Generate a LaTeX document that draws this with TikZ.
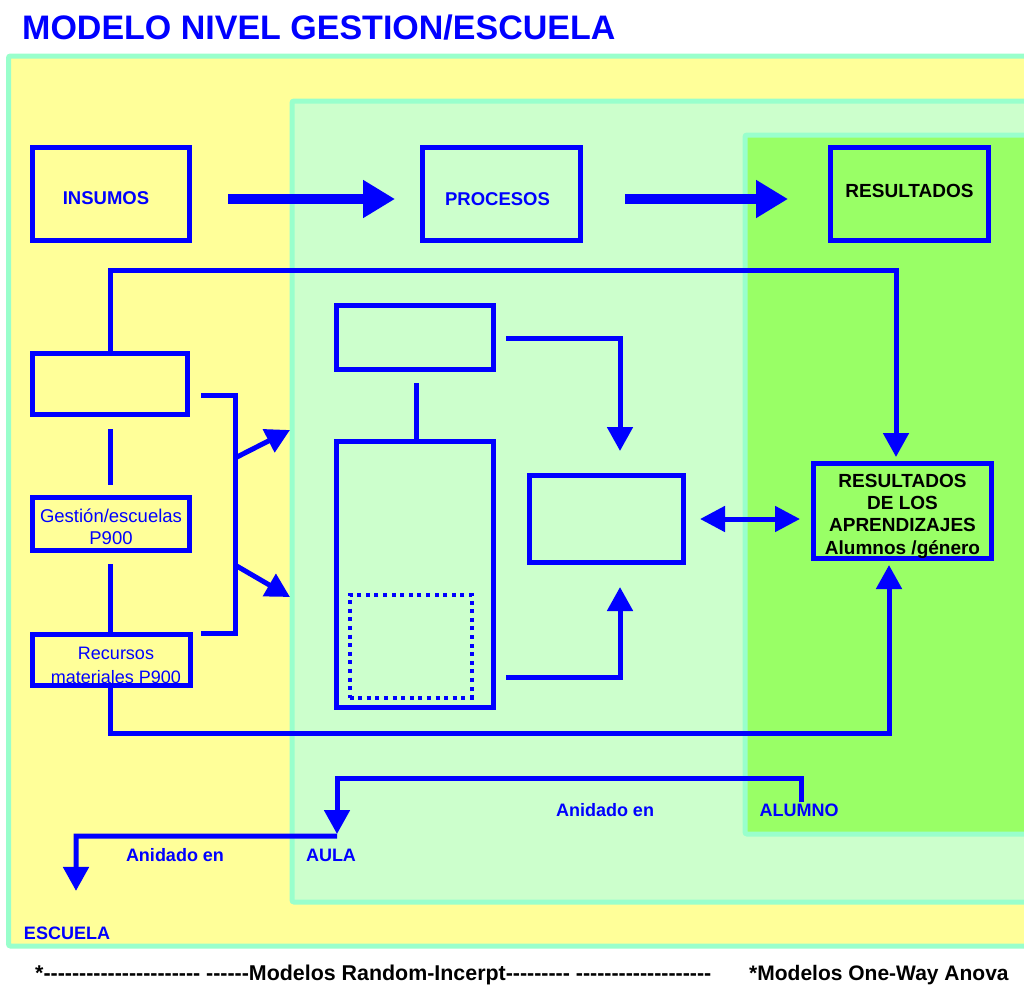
\documentclass[tikz,border=0pt]{standalone}
\usepackage{fontspec}
\setmainfont{Liberation Sans}
\newfontfamily\dashfont{Liberation Sans}[Ligatures=TeXOff]
\usetikzlibrary{arrows.meta,calc}

\definecolor{bblue}{HTML}{0000FF}
\definecolor{byellow}{HTML}{FFFF99}
\definecolor{blight}{HTML}{CCFFCC}
\definecolor{bgreen}{HTML}{99FF66}
\definecolor{baqua}{HTML}{99FFCC}

\tikzset{
  zone/.style={fill=#1, draw=baqua, line width=5pt, rounded corners=2pt},
  box/.style={draw=bblue, line width=5pt, inner sep=0pt, outer sep=0pt},
  dotbox/.style={draw=bblue, line width=4pt, dash pattern=on 4pt off 4.6pt, inner sep=0pt, outer sep=0pt},
  heading/.style={font=\fontsize{18.5pt}{22pt}\selectfont\bfseries, text=bblue},
  dark/.style={font=\fontsize{19pt}{22.4pt}\selectfont\bfseries, text=black, align=center},
  plain/.style={font=\fontsize{18.5pt}{22pt}\selectfont, text=bblue, align=center},
  tag/.style={font=\fontsize{18pt}{22pt}\selectfont\bfseries, text=bblue, inner sep=0pt},
  conn/.style={draw=bblue, line width=5pt},
  arr/.style={conn, -{Triangle[length=24pt,width=25pt]}},
  dblarr/.style={conn, {Triangle[length=25pt,width=25pt]}-{Triangle[length=25pt,width=25pt]}},
  bigarrow/.style={draw=bblue, line width=10pt, -{Triangle[length=32pt,width=36pt]}},
}

\begin{document}
\begin{tikzpicture}[x=1pt,y=-1pt]
\useasboundingbox (0,0) rectangle (1024,985);

% nested levels: school, classroom, pupil
\fill[white] (0,0) rectangle (1024,985);
\draw[zone=byellow] (8.5,56) rectangle (1035,946);
\draw[zone=blight] (292,101) rectangle (1035,902);
\draw[zone=bgreen] (745,135) rectangle (1035,834);

% title
\node[anchor=base west, inner sep=0pt, text=bblue,
      font=\fontsize{34pt}{40pt}\selectfont\bfseries] (title) at (22,39)
  {MODELO NIVEL GESTION/ESCUELA};

% top row
\node[box, minimum width=157pt, minimum height=93pt,
      label={[heading, xshift=-5pt, yshift=-4pt]center:INSUMOS}] (ins) at (111,194) {};
\node[box, minimum width=158pt, minimum height=93pt,
      label={[heading, xshift=-4pt, yshift=-5pt]center:PROCESOS}] (pro) at (501.5,194) {};
\node[box, minimum width=158pt, minimum height=93pt,
      label={[dark, yshift=3pt]center:RESULTADOS}] (res) at (909.5,194) {};
\draw[bigarrow] ($(ins.east)+(38.5,5)$) -- ($(pro.west)+(-27.5,5)$);
\draw[bigarrow] ($(pro.east)+(44.5,5)$) -- ($(res.west)+(-42.5,5)$);

% left column
\node[box, minimum width=155pt, minimum height=61pt] (b1) at (110,384) {};
\node[box, minimum width=157pt, minimum height=53pt,
      label={[plain, yshift=-3pt]center:Gestión/escuelas\\P900}] (gest) at (111,524) {};
\node[box, minimum width=158pt, minimum height=51pt] (rec) at (111.5,660) {};
\node[plain, font=\fontsize{18pt}{24pt}\selectfont, inner sep=0pt] (recT) at (116,665.5) {Recursos\\materiales P900};

% middle column
\node[box, minimum width=157pt, minimum height=64pt] (mtop) at (415,337.5) {};
\node[box, minimum width=157pt, minimum height=266pt] (mtall) at (415,574.5) {};
\node[dotbox, minimum width=122pt, minimum height=103pt] (dot) at (410.5,646) {};
\node[box, minimum width=154pt, minimum height=87pt] (mmid) at (606.5,519) {};

% outcome box
\node[box, minimum width=178pt, minimum height=95pt,
      label={[dark, yshift=-5pt]center:RESULTADOS\\DE LOS\\APRENDIZAJES\\Alumnos /género}] (rda) at (902.5,511) {};

% long links into the outcome box
\coordinate (topbend) at (896,270);
\coordinate (botbend) at (889,733);
\draw[arr] (b1.north) |- (topbend) -- ($(rda.north)+(-6.5,-6.5)$);
\draw[arr] ($(rec.south)+(-1.5,0)$) |- (botbend) -- ($(rda.south)+(-13.5,6.5)$);

% links inside the left column
\draw[conn] ($(b1.south)+(0,14.5)$) -- ($(gest.north)+(-1,-12.5)$);
\draw[conn] ($(gest.south)+(-1,13.5)$) -- ($(rec.north)+(-1.5,0)$);

% bracket and its two arrows
\draw[conn] ($(b1.east)+(13.5,11)$) -| ($(rec.east)+(44.5,-27)$) -- ($(rec.east)+(10.5,-27)$);
\coordinate (jA) at (235,458);
\coordinate (tA) at (290,430);
\coordinate (jB) at (235,565);
\coordinate (tB) at (290,597);
\draw[arr] (jA) -- (tA);
\draw[arr] (jB) -- (tB);

% links inside the middle column
\draw[conn] ($(mtop.south)+(1,13.5)$) -- ($(mtall.north)+(1,0)$);
\draw[arr] ($(mtop.east)+(12.5,0.5)$) -| ($(mmid.north)+(13.5,-24.5)$);
\draw[arr] ($(mtall.east)+(12.5,102.5)$) -| ($(mmid.south)+(13.5,24.5)$);
\draw[dblarr] ($(mmid.east)+(16.5,0)$) -- ($(rda.west)+(-13.5,8)$);

% nesting levels
\node[tag] (alumno) at (799,810) {ALUMNO};
\node[tag] (anid1) at (605,810) {Anidado en};
\node[tag] (aula) at (331,855) {AULA};
\node[tag] (anid2) at (175,855) {Anidado en};
\node[tag] (escuela) at (67,933) {ESCUELA};
\coordinate (nb1) at (337,778);
\coordinate (nb2) at (76,836);
\draw[arr] ($(alumno.north)+(2,-1)$) |- (nb1) -- ($(aula.north)+(6,-14.5)$);
\draw[arr] ($(aula.north)+(6,-12.5)$) -- (nb2) -- ($(escuela.north)+(9,-35.5)$);

% footer
\node[anchor=base west, inner sep=0pt, font=\fontsize{21.4pt}{24pt}\dashfont\bfseries] (foot1) at (35,980)
  {*---------------------- ------Modelos Random-Incerpt--------- -------------------};
\node[anchor=base west, inner sep=0pt, font=\fontsize{21pt}{24pt}\dashfont\bfseries] (foot2) at (749,980)
  {*Modelos One-Way Anova};
\end{tikzpicture}
\end{document}
